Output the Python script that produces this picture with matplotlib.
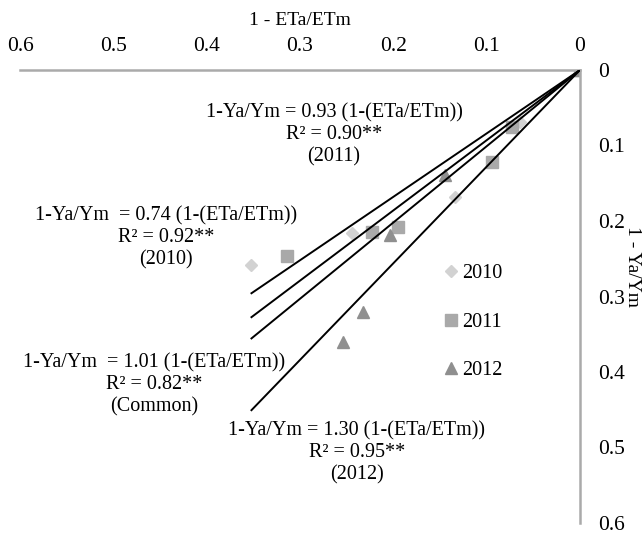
import matplotlib
matplotlib.use("Agg")
import matplotlib.pyplot as plt
import numpy as np

plt.rcParams['font.family'] = ['Liberation Serif', 'DejaVu Serif']

# points: (1 - ETa/ETm, 1 - Ya/Ym)
x_2010 = [0.0, 0.064, 0.134, 0.244, 0.352]
y_2010 = [0.0, 0.069, 0.168, 0.216, 0.258]
x_2011 = [0.0, 0.073, 0.094, 0.195, 0.223, 0.314]
y_2011 = [0.0, 0.075, 0.122, 0.208, 0.215, 0.246]
x_2012 = [0.0, 0.145, 0.204, 0.233, 0.254]
y_2012 = [0.0, 0.139, 0.219, 0.320, 0.360]

# fitted lines through origin (slopes as drawn)
line_slopes = [0.84, 0.93, 1.01, 1.28]
line_x_end = 0.352

tick_vals = [0.6, 0.5, 0.4, 0.3, 0.2, 0.1, 0]
tick_labels = ["0.6", "0.5", "0.4", "0.3", "0.2", "0.1", "0"]
ytick_vals = [0, 0.1, 0.2, 0.3, 0.4, 0.5, 0.6]
ytick_labels = ["0", "0.1", "0.2", "0.3", "0.4", "0.5", "0.6"]

eq_2011 = "1-Ya/Ym = 0.93 (1-(ETa/ETm))\nR² = 0.90**\n(2011)"
eq_2010 = "1-Ya/Ym  = 0.74 (1-(ETa/ETm))\nR² = 0.92**\n(2010)"
eq_common = "1-Ya/Ym  = 1.01 (1-(ETa/ETm))\nR² = 0.82**\n(Common)"
eq_2012 = "1-Ya/Ym = 1.30 (1-(ETa/ETm))\nR² = 0.95**\n(2012)"

fig = plt.figure(figsize=(6.44, 5.35), dpi=100)
ax = fig.add_axes([20/644, 1-523/535, 560/644, 453/535])

for s in line_slopes:
    xs = np.array([0.0, line_x_end])
    ax.plot(xs, s*xs, color="black", lw=1.4, zorder=3)

ax.plot(x_2010, y_2010, linestyle="none", marker="D", ms=6, color="#d2d2d2",
        mec="#d2d2d2", label="2010", zorder=2)
ax.plot(x_2011, y_2011, linestyle="none", marker="s", ms=9, color="#a9a9a9",
        mec="#a9a9a9", label="2011", zorder=2)
ax.plot(x_2012, y_2012, linestyle="none", marker="^", ms=9, color="#8f8f8f",
        mec="#8f8f8f", label="2012", zorder=2)

ax.set_xlim(0.6, 0)
ax.set_ylim(0.6, 0)
ax.xaxis.tick_top()
ax.yaxis.tick_right()
ax.set_xticks(tick_vals)
ax.set_xticklabels(tick_labels)
ax.set_yticks(ytick_vals)
ax.set_yticklabels(ytick_labels)
ax.tick_params(axis="x", length=0, pad=10, labelsize=15.5)
ax.tick_params(axis="y", length=0, pad=13, labelsize=15.5)
for side in ["bottom", "left"]:
    ax.spines[side].set_visible(False)
for side in ["top", "right"]:
    ax.spines[side].set_color("#aaaaaa")
    ax.spines[side].set_linewidth(1.8)
ax.set_facecolor("none")

ax.xaxis.set_label_position("top")
ax.set_xlabel("1 - ETa/ETm", fontsize=14, labelpad=9)
# y label sits just right of the tick labels, between 0.2 and 0.3
fig.text(633/644, 1-267/535, "1 - Ya/Ym", fontsize=14, rotation=270,
         ha="center", va="center")

txt = dict(fontsize=14.5, ha="center", va="center", linespacing=1.2,
           transform=fig.transFigure)
fig.text(334/644, 1-135/535, eq_2011, **txt)
fig.text(166/644, 1-238/535, eq_2010, **txt)
fig.text(154/644, 1-385/535, eq_common, **txt)
fig.text(357/644, 1-453/535, eq_2012, **txt)

ax.legend(loc="center left", bbox_to_anchor=(445/644, 1-322/535),
          bbox_transform=fig.transFigure, frameon=False, fontsize=14.5,
          handlelength=0.6, handletextpad=0.25, labelspacing=1.45,
          borderpad=0, borderaxespad=0)

fig.savefig("out.png", dpi=100)
